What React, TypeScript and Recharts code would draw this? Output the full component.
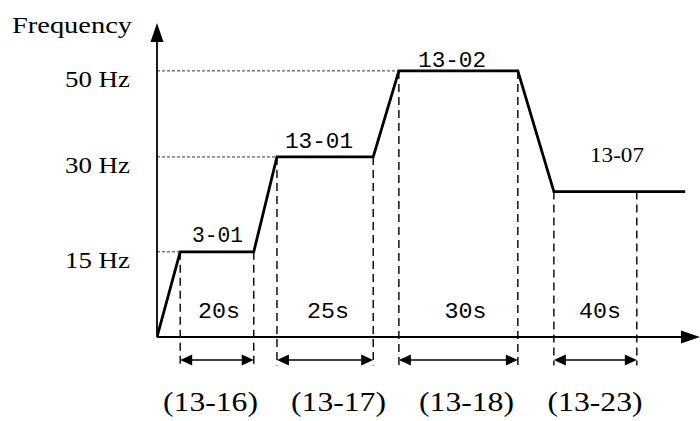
import React from 'react';
import { LineChart, Line, XAxis, YAxis, ReferenceLine, ReferenceDot } from 'recharts';

// Schematic time (arbitrary units) and schematic frequency heights of the profile
const times = [0, 4.7, 19.6, 24.3, 43.8, 49.0, 73.1, 80.4, 107.0];
const levels = [0, 0.96, 0.96, 2.03, 2.03, 3.0, 3.0, 1.64, 1.64];

// Steps
const stepStart = [4.7, 24.3, 49.0, 80.4];
const stepEnd = [19.6, 43.8, 73.1, 97.2];
const stepLevel = [0.96, 2.03, 3.0, 1.64];
const stepCodes = ['3-01', '13-01', '13-02', '13-07'];
const codeX = [12.26, 32.82, 59.77, 93.19];
const durations = ['20s', '25s', '30s', '40s'];
const durationX = [12.56, 34.64, 62.5, 89.75];
const paramCodes = ['(13-16)', '(13-17)', '(13-18)', '(13-23)'];
const paramX = [10.84, 36.77, 62.7, 88.74];

// Frequency ticks
const freqTicks = [0.96, 2.03, 3.0];
const freqLabels = ['15 Hz', '30 Hz', '50 Hz'];
const dottedTo = [4.7, 24.3, 49.0];

const X_MAX = 110;
const Y_MAX = 3.54;
const DIM_Y = -0.26;
const DASH_BOTTOM = -0.32;

const data = times.map((t, i) => ({ t, f: levels[i] }));

const SERIF = '"Liberation Serif", "Times New Roman", serif';
const MONO = '"Liberation Mono", "DejaVu Sans Mono", monospace';

const codeFont = [MONO, MONO, MONO, SERIF];
const codeSize = [22, 22, 22, 22];
const codeWidth = [51, 68, 68, 54];
const codeDy = [-10, -9, -4, -30];

function head(tx: number, ty: number, ux: number, uy: number, len: number, hw: number) {
  const bx = tx - ux * len;
  const by = ty - uy * len;
  const px = -uy;
  const py = ux;
  return `${tx},${ty} ${bx + px * hw},${by + py * hw} ${bx - px * hw},${by - py * hw}`;
}

const axisArrow = (props: any) => {
  const { x1, y1, x2, y2 } = props;
  const dx = x2 - x1;
  const dy = y2 - y1;
  const d = Math.sqrt(dx * dx + dy * dy) || 1;
  const ux = dx / d;
  const uy = dy / d;
  const len = 19;
  return (
    <g>
      <line x1={x1} y1={y1} x2={x2 - ux * (len - 2)} y2={y2 - uy * (len - 2)} stroke="#000" strokeWidth={1.8} />
      <polygon points={head(x2, y2, ux, uy, len, 6.5)} fill="#000" />
    </g>
  );
};

const dimArrow = (props: any) => {
  const { x1, y1, x2, y2 } = props;
  const len = 12;
  return (
    <g>
      <line x1={x1 + 4} y1={y1} x2={x2 - 4} y2={y2} stroke="#000" strokeWidth={1.6} />
      <polygon points={head(x1, y1, -1, 0, len, 5.5)} fill="#000" />
      <polygon points={head(x2, y2, 1, 0, len, 5.5)} fill="#000" />
    </g>
  );
};

const YTick = (props: any) => {
  const { x, y, payload } = props;
  const i = freqTicks.indexOf(payload.value);
  if (i < 0) return null;
  return (
    <text x={x - 27} y={y + 16} textAnchor="end" fontFamily={SERIF} fontSize={23} fill="#000" textLength={65} lengthAdjust="spacingAndGlyphs">
      {freqLabels[i]}
    </text>
  );
};

const XTick = (props: any) => {
  const { x, y, payload } = props;
  const i = paramX.indexOf(payload.value);
  if (i < 0) return null;
  return (
    <text x={x} y={y + 74} textAnchor="middle" fontFamily={SERIF} fontSize={27} fill="#000" textLength={95} lengthAdjust="spacingAndGlyphs">
      {paramCodes[i]}
    </text>
  );
};

export default function App() {
  return (
    <div style={{ position: 'absolute', left: 0, top: 0, width: 700, height: 421, background: '#fff' }}>
      <LineChart width={700} height={421} data={data} margin={{ top: 23, right: 0, bottom: 24, left: 0 }}>
        <XAxis
          dataKey="t"
          type="number"
          domain={[0, X_MAX]}
          allowDataOverflow
          ticks={paramX}
          interval={0}
          height={60}
          axisLine={false}
          tickLine={false}
          tickSize={0}
          tickMargin={0}
          tick={<XTick />}
        />
        <YAxis
          type="number"
          domain={[0, Y_MAX]}
          allowDataOverflow
          ticks={freqTicks}
          interval={0}
          width={157}
          axisLine={false}
          tickLine={false}
          tickSize={0}
          tickMargin={0}
          tick={<YTick />}
        />

        {freqTicks.map((v, i) => (
          <ReferenceLine
            key={`dot-${i}`}
            segment={[{ x: 0, y: v }, { x: dottedTo[i], y: v }]}
            stroke="#333"
            strokeWidth={1}
            strokeDasharray="3 2"
            ifOverflow="visible"
          />
        ))}

        {stepStart.map((s, i) => (
          <ReferenceLine
            key={`vs-${i}`}
            segment={[{ x: s, y: stepLevel[i] }, { x: s, y: DASH_BOTTOM }]}
            stroke="#000"
            strokeWidth={1.4}
            strokeDasharray="8 5"
            ifOverflow="visible"
          />
        ))}
        {stepEnd.map((s, i) => (
          <ReferenceLine
            key={`ve-${i}`}
            segment={[{ x: s, y: stepLevel[i] }, { x: s, y: DASH_BOTTOM }]}
            stroke="#000"
            strokeWidth={1.4}
            strokeDasharray="8 5"
            ifOverflow="visible"
          />
        ))}

        {stepStart.map((s, i) => (
          <ReferenceLine
            key={`dim-${i}`}
            segment={[{ x: s, y: DIM_Y }, { x: stepEnd[i], y: DIM_Y }]}
            ifOverflow="visible"
            shape={dimArrow}
          />
        ))}

        <ReferenceLine segment={[{ x: 0, y: 0 }, { x: X_MAX, y: 0 }]} ifOverflow="visible" shape={axisArrow} />
        <ReferenceLine segment={[{ x: 0, y: 0 }, { x: 0, y: Y_MAX }]} ifOverflow="visible" shape={axisArrow} />

        <Line
          type="linear"
          dataKey="f"
          stroke="#000"
          strokeWidth={2.8}
          dot={false}
          activeDot={false}
          isAnimationActive={false}
        />

        {stepCodes.map((c, i) => (
          <ReferenceDot
            key={`code-${i}`}
            x={codeX[i]}
            y={stepLevel[i]}
            r={0}
            ifOverflow="visible"
            shape={(p: any) => (
              <text x={p.cx} y={p.cy + codeDy[i]} textAnchor="middle" fontFamily={codeFont[i]} fontSize={codeSize[i]} fill="#000" textLength={codeWidth[i]} lengthAdjust="spacingAndGlyphs">
                {c}
              </text>
            )}
          />
        ))}

        {durations.map((d, i) => (
          <ReferenceDot
            key={`dur-${i}`}
            x={durationX[i]}
            y={0}
            r={0}
            ifOverflow="visible"
            shape={(p: any) => (
              <text x={p.cx} y={p.cy - 19} textAnchor="middle" fontFamily={MONO} fontSize={22} fill="#000" textLength={42} lengthAdjust="spacingAndGlyphs">
                {d}
              </text>
            )}
          />
        ))}

        <ReferenceDot
          x={0}
          y={Y_MAX}
          r={0}
          ifOverflow="visible"
          shape={(p: any) => (
            <text x={p.cx - 25} y={p.cy + 10} textAnchor="end" fontFamily={SERIF} fontSize={23} fill="#000" textLength={120} lengthAdjust="spacingAndGlyphs">
              Frequency
            </text>
          )}
        />
      </LineChart>
    </div>
  );
}
